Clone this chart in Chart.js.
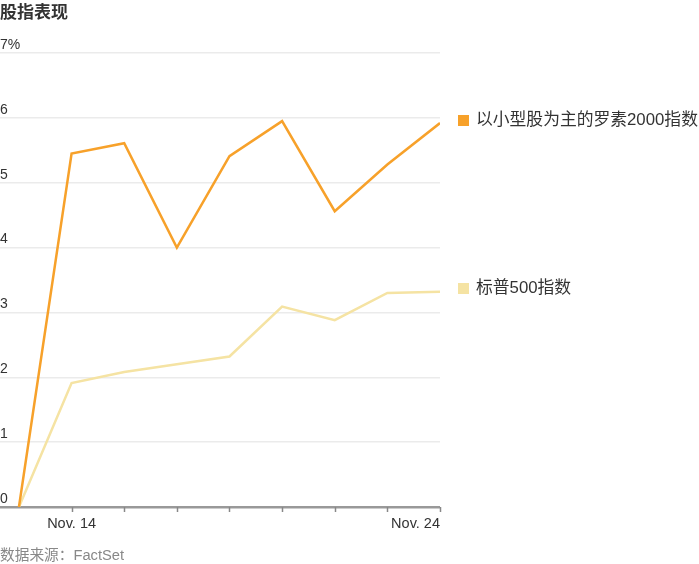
<!DOCTYPE html>
<html>
<head>
<meta charset="utf-8">
<script src="https://cdn.jsdelivr.net/npm/chart.js@4.4.1/dist/chart.umd.min.js"></script>
<style>
  html, body { margin: 0; padding: 0; background: #fff; }
  #wrap { position: relative; width: 699px; height: 564px; font-family: "Liberation Sans", "Noto Sans CJK SC", sans-serif; }
  #title { position: absolute; left: 0; top: -2px; font-size: 17px; font-weight: bold; color: #333; font-family: "Liberation Sans", "Noto Sans CJK SC", sans-serif; }
  #source { position: absolute; left: 0; top: 543px; font-size: 14.7px; color: #888; font-family: "Noto Sans CJK SC", "Liberation Sans", sans-serif; }
  #source span { font-family: "Liberation Sans", sans-serif; }
  #cv { position: absolute; left: 0; top: 0; }
</style>
</head>
<body>
<div id="wrap">
  <canvas id="cv" width="699" height="564"></canvas>
  <div id="title">股指表现</div>
  <div id="source">数据来源：<span>FactSet</span></div>
</div>
<script>
// ---- data ----
const days = [0, 1, 2, 3, 4, 5, 6, 7, 8];
const xTickLabels = ['', 'Nov. 14', '', '', '', '', '', '', 'Nov. 24'];
const seriesNames = ['以小型股为主的罗素2000指数', '标普500指数'];
const russell2000 = [0, 5.45, 5.61, 4.0, 5.41, 5.95, 4.56, 5.28, 5.92];
const sp500 = [0, 1.91, 2.08, 2.2, 2.32, 3.09, 2.88, 3.3, 3.32];
const yTicks = [0, 1, 2, 3, 4, 5, 6, 7];
const seriesColors = ['#F7A12A', '#F5E3A3'];

const FONT = '"Liberation Sans", "Noto Sans CJK SC", sans-serif';

const overlay = {
  id: 'overlay',
  afterDraw(chart) {
    const ctx = chart.ctx;
    const xs = chart.scales.x, ys = chart.scales.y;
    const base = ys.getPixelForValue(0);
    ctx.save();
    // x tick marks
    ctx.strokeStyle = '#888';
    ctx.lineWidth = 1.5;
    days.forEach((d, i) => {
      if (i === 0) return;
      const px = Math.round(xs.getPixelForValue(d)) + 0.5;
      ctx.beginPath();
      ctx.moveTo(px, base);
      ctx.lineTo(px, base + 5);
      ctx.stroke();
    });
    // x labels
    ctx.fillStyle = '#333';
    ctx.font = '14.5px ' + FONT;
    ctx.textBaseline = 'middle';
    xTickLabels.forEach((lab, i) => {
      if (!lab) return;
      const px = xs.getPixelForValue(days[i]);
      ctx.textAlign = i === xTickLabels.length - 1 ? 'right' : 'center';
      ctx.fillText(lab, px, base + 17);
    });
    // end-of-line legend
    const lastVals = [russell2000[russell2000.length - 1], sp500[sp500.length - 1]];
    ctx.font = '16.8px ' + FONT;
    ctx.textAlign = 'left';
    lastVals.forEach((v, i) => {
      const py = ys.getPixelForValue(v) - 3;
      ctx.fillStyle = seriesColors[i];
      ctx.fillRect(458, Math.round(py - 5.5), 11, 11);
      ctx.fillStyle = '#333';
      ctx.fillText(seriesNames[i], 476, py);
    });
    ctx.restore();
  }
};

new Chart(document.getElementById('cv'), {
  type: 'line',
  data: {
    datasets: [
      { label: seriesNames[0], data: days.map((d, i) => ({ x: d, y: russell2000[i] })), borderColor: seriesColors[0], borderWidth: 2.5, pointRadius: 0, tension: 0, order: 1 },
      { label: seriesNames[1], data: days.map((d, i) => ({ x: d, y: sp500[i] })), borderColor: seriesColors[1], borderWidth: 2.5, pointRadius: 0, tension: 0, order: 2 }
    ]
  },
  options: {
    responsive: false,
    animation: false,
    devicePixelRatio: 1,
    layout: { padding: { top: 53, left: 0, right: 259, bottom: 49 } },
    plugins: { legend: { display: false }, tooltip: { enabled: false } },
    scales: {
      x: {
        type: 'linear',
        min: -0.36,
        max: 8,
        grid: { display: false },
        border: { display: false },
        ticks: { display: false }
      },
      y: {
        min: 0,
        max: 7,
        afterBuildTicks: (axis) => { axis.ticks = yTicks.map(v => ({ value: v })); },
        grid: {
          color: (c) => c.tick && c.tick.value === 0 ? '#999' : '#ebebeb',
          lineWidth: (c) => c.tick && c.tick.value === 0 ? 2.5 : 1.5,
          drawTicks: false
        },
        border: { display: false },
        ticks: {
          mirror: true,
          padding: 0,
          labelOffset: -8,
          color: '#333',
          font: { size: 14, family: FONT },
          callback: (v) => v === 7 ? '7%' : String(v)
        }
      }
    }
  },
  plugins: [overlay]
});
</script>
</body>
</html>
